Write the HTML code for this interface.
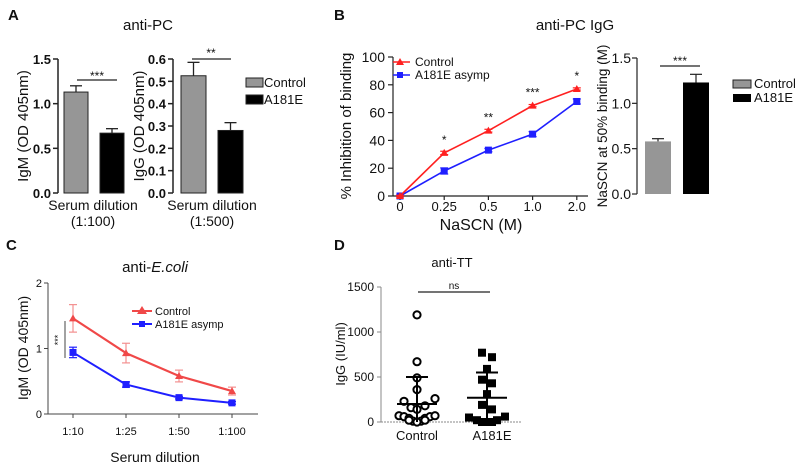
<!DOCTYPE html>
<html><head><meta charset="utf-8">
<style>
html,body{margin:0;padding:0;background:#fff;}
svg{display:block;font-family:"Liberation Sans",sans-serif;}
</style></head>
<body>
<svg id="fig" width="800" height="470" viewBox="0 0 800 470"></svg>
<script>
// ---- Panel A data ----
const aCats = ["Control","A181E"];
const aIgM = [1.13, 0.67];
const aIgMErr = [0.07, 0.05];
const aIgG = [0.525, 0.28];
const aIgGErr = [0.06, 0.035];
const aIgMTicks = ["0.0","0.5","1.0","1.5"];
const aIgGTicks = ["0.0","0.1","0.2","0.3","0.4","0.5","0.6"];
// ---- Panel B data ----
const bCats = ["0","0.25","0.5","1.0","2.0"];
const bControl = [0, 31, 47, 65, 77];
const bControlErr = [0.5, 1.2, 1, 0.8, 0.8];
const bA181E = [0, 18, 33, 44.5, 68];
const bA181EErr = [0.5, 2.2, 1.2, 1.8, 1.8];
const bStars = ["", "*", "**", "***", "*"];
const bYTicks = [0, 20, 40, 60, 80, 100];
const bBar = [0.58, 1.23];
const bBarErr = [0.03, 0.09];
const bBarTicks = ["0.0","0.5","1.0","1.5"];
// ---- Panel C data ----
const cCats = ["1:10","1:25","1:50","1:100"];
const cControl = [1.46, 0.93, 0.58, 0.35];
const cControlErr = [0.21, 0.15, 0.09, 0.06];
const cA181E = [0.94, 0.45, 0.25, 0.17];
const cA181EErr = [0.08, 0.04, 0.02, 0.02];
const cYTicks = [0, 1, 2];
// ---- Panel D data ----
const dControl = [1190,670,490,360,230,160,140,180,260,70,60,40,40,60,70,10,10,20,20,0];
const dControlJitter = [0,0,0,0,-13,-6,0,8,18,-18,-13,-8,8,13,18,-4,4,-8,8,0];
const dA181E = [770,720,590,470,430,310,190,140,50,20,0,20,60,0,0];
const dA181EJitter = [-5,5,0,-5,5,0,-5,5,-18,-10,0,10,18,-5,5];
const dControlMean = 200, dControlSD = 500;
const dA181EMean = 270, dA181ESD = 550;
const dYTicks = [0, 500, 1000, 1500];

const svg = document.getElementById('fig');
const NS = "http://www.w3.org/2000/svg";
function mk(tag, attrs, parent){
  const e = document.createElementNS(NS, tag);
  for (const k in attrs) e.setAttribute(k, attrs[k]);
  (parent||svg).appendChild(e);
  return e;
}
function nm(e, name){
  
  
  return e;
}
function txt(x,y,s,size,anchor,extra,name){
  const e = mk('text', Object.assign({x:x,y:y,'font-size':size,'text-anchor':anchor||'middle',fill:'#111'}, extra||{}));
  e.textContent = s;
  
  
  return e;
}
function line(x1,y1,x2,y2,stroke,w,name){
  const e = mk('line',{x1:x1,y1:y1,x2:x2,y2:y2,stroke:stroke||'#222','stroke-width':w||1.3});
  
  
  return e;
}
function ylabel(x,y,s,size,name){
  return txt(x,y,s,size,'middle',{transform:`rotate(-90 ${x} ${y})`},name);
}

// panel letters
txt(8,20,"A",15,'start',{'font-weight':'bold'},'panel-a-label');
txt(334,20,"B",15,'start',{'font-weight':'bold'},'panel-b-label');
txt(6,250,"C",15,'start',{'font-weight':'bold'},'panel-c-label');
txt(334,250,"D",15,'start',{'font-weight':'bold'},'panel-d-label');

// ===== Panel A =====
txt(148,30,"anti-PC",15,'middle',{},'panel-a-title');
function barPanel(ax, y0, y1, vmax, ticks, vals, errs, xs, bw, prefix){
  const ys = v => y0 - v/vmax*(y0-y1);
  line(ax, y1, ax, y0, '#222', 1.5, prefix+'-y-axis');
  ticks.forEach(t=>{
    const y = ys(parseFloat(t));
    line(ax-5,y,ax,y,'#222',1.5,prefix+'-y-tick');
    txt(ax-7,y+5,t,13,'end',{'font-weight':'bold','font-family':'"Liberation Sans Narrow","Liberation Sans",sans-serif'},prefix+'-y-tick-label');
  });
  const cols = ['#969696','#000'];
  vals.forEach((v,i)=>{
    const top = ys(v+errs[i]);
    line(xs[i]+bw/2, ys(v), xs[i]+bw/2, top,'#222',1.3,prefix+'-error-bar');
    line(xs[i]+bw/2-6, top, xs[i]+bw/2+6, top,'#222',1.3,prefix+'-error-cap');
    const r = mk('rect',{x:xs[i],y:ys(v),width:bw,height:y0-ys(v),fill:cols[i],stroke:'#222','stroke-width':1});
    
    
  });
  return ys;
}
barPanel(58,193,59,1.5,aIgMTicks,aIgM,aIgMErr,[64,100],24,'igm');
ylabel(28,126,"IgM (OD 405nm)",15,'igm-y-axis-title');
line(77,80,117,80,'#222',1.3,'igm-significance-line');
txt(97,80,"***",12,'middle',{},'igm-significance-stars');
txt(93,210,"Serum dilution",14,'middle',{},'igm-x-label');
txt(93,226,"(1:100)",14,'middle',{},'igm-x-dilution');

barPanel(173,193,59,0.6,aIgGTicks,aIgG,aIgGErr,[181,218],25,'igg');
ylabel(144,126,"IgG (OD 405nm)",15,'igg-y-axis-title');
line(192,59,231,59,'#222',1.3,'igg-significance-line');
txt(211,57,"**",12,'middle',{},'igg-significance-stars');
txt(212,210,"Serum dilution",14,'middle',{},'igg-x-label');
txt(212,226,"(1:500)",14,'middle',{},'igg-x-dilution');
// legend A
nm(mk('rect',{x:246,y:78,width:17,height:9,fill:'#969696',stroke:'#222'}),'legend-a-swatch-control');
txt(264,87,"Control",13,'start',{},'legend-a-control');
nm(mk('rect',{x:246,y:95,width:17,height:9,fill:'#000',stroke:'#222'}),'legend-a-swatch-a181e');
txt(264,104,"A181E",13,'start',{},'legend-a-a181e');

// ===== Panel B line =====
txt(575,30,"anti-PC IgG",15,'middle',{},'panel-b-title');
const bx0=400, bdx=44.2, by0=196, by1=57;
const bX = i => bx0 + i*bdx;
const bY = v => by0 - v/100*(by0-by1);
line(393,by1,393,by0,'#222',1.2,'b-y-axis');
line(393,by0,588,by0,'#222',1.2,'b-x-axis');
bYTicks.forEach(t=>{
  line(388,bY(t),393,bY(t),'#222',1.2,'b-y-tick');
  txt(385,bY(t)+5,String(t),14,'end',{},'b-y-tick-label');
});
bCats.forEach((c,i)=>{
  line(bX(i),by0,bX(i),by0+4,'#222',1.2,'b-x-tick');
  txt(bX(i),by0+15,c,13,'middle',{},'b-x-tick-label');
});
ylabel(351,126,"% Inhibition of binding",15,'b-y-axis-title');
txt(481,230,"NaSCN (M)",16,'middle',{},'b-x-axis-title');
function series(X,Y,vals,errs,col,marker,name,w,errCol){
  const pts = vals.map((v,i)=>X(i)+','+Y(v)).join(' ');
  nm(mk('polyline',{points:pts,fill:'none',stroke:col,'stroke-width':w||1.6}),name+'-line');
  vals.forEach((v,i)=>{
    const x=X(i), y=Y(v), t=Y(v+errs[i]), b=Y(v-errs[i]);
    line(x,t,x,b,errCol||col,1.2,name+'-error-bar');
    line(x-4,t,x+4,t,errCol||col,1.2,name+'-error-cap');
    line(x-4,b,x+4,b,errCol||col,1.2,name+'-error-cap');
    let m;
    if(marker==='tri') m = mk('polygon',{points:`${x},${y-4} ${x-4},${y+3} ${x+4},${y+3}`,fill:col});
    else m = mk('rect',{x:x-3.5,y:y-3.5,width:7,height:7,fill:col});
    
    
  });
}
series(bX,bY,bA181E,bA181EErr,'#1f1fff','sq','b-a181e');
series(bX,bY,bControl,bControlErr,'#ff2020','tri','b-control');
bStars.forEach((s,i)=>{ if(s) txt(bX(i), bY(Math.max(bControl[i],bA181E[i]))-9, s, 12,'middle',{},'b-significance-stars'); });
line(393,62,410,62,'#ff2020',1.6,'legend-b-control-line');
nm(mk('polygon',{points:'400,58 396,65 404,65',fill:'#ff2020'}),'legend-b-control-marker');
txt(415,66,"Control",12,'start',{},'legend-b-control');
line(393,75,410,75,'#1f1fff',1.6,'legend-b-a181e-line');
nm(mk('rect',{x:397,y:72,width:6,height:6,fill:'#1f1fff'}),'legend-b-a181e-marker');
txt(415,79,"A181E asymp",12,'start',{},'legend-b-a181e');

// ===== Panel B bar =====
const bby0=194, bby1=58;
const bbY = v => bby0 - v/1.5*(bby0-bby1);
line(637,bby1,637,bby0,'#222',1.2,'b-bar-y-axis');
bBarTicks.forEach(t=>{
  line(632,bbY(+t),637,bbY(+t),'#222',1.2,'b-bar-y-tick');
  txt(631,bbY(+t)+5,t,14,'end',{},'b-bar-y-tick-label');
});
const bbXs=[645,683], bbCols=['#969696','#000'];
bBar.forEach((v,i)=>{
  const t=bbY(v+bBarErr[i]);
  line(bbXs[i]+13,bbY(v),bbXs[i]+13,t,'#222',1.2,'b-bar-error-bar');
  line(bbXs[i]+7,t,bbXs[i]+19,t,'#222',1.2,'b-bar-error-cap');
  const r = mk('rect',{x:bbXs[i],y:bbY(v),width:26,height:bby0-bbY(v),fill:bbCols[i]});
  
  
});
line(660,66,700,66,'#222',1.3,'b-bar-significance-line');
txt(680,65,"***",12,'middle',{},'b-bar-significance-stars');
ylabel(607,126,"NaSCN at 50% binding (M)",13.5,'b-bar-y-axis-title');
nm(mk('rect',{x:733,y:80,width:18,height:8,fill:'#969696',stroke:'#222'}),'legend-b2-swatch-control');
txt(754,88,"Control",13,'start',{},'legend-b2-control');
nm(mk('rect',{x:733,y:94,width:18,height:8,fill:'#000'}),'legend-b2-swatch-a181e');
txt(754,102,"A181E",13,'start',{},'legend-b2-a181e');

// ===== Panel C =====
const ctitle = txt(155,272,"anti-",15,'middle',{},'panel-c-title');
const ts = document.createElementNS(NS,'tspan'); ts.setAttribute('font-style','italic'); ts.textContent="E.coli"; ctitle.appendChild(ts);
const cx0=73, cdx=53, cy0=414, cy1=283;
const cX = i => cx0 + i*cdx;
const cY = v => cy0 - v/2*(cy0-cy1);
line(48,cy1,48,cy0,'#444',1,'c-y-axis');
line(48,cy0,258,cy0,'#444',1,'c-x-axis');
cYTicks.forEach(t=>{
  line(44,cY(t),48,cY(t),'#444',1,'c-y-tick');
  txt(42,cY(t)+4,String(t),11,'end',{},'c-y-tick-label');
});
cCats.forEach((c,i)=>{
  line(cX(i),cy0,cX(i),cy0+4,'#444',1,'c-x-tick');
  txt(cX(i),cy0+21,c,11,'middle',{},'c-x-tick-label');
});
txt(155,462,"Serum dilution",14,'middle',{},'c-x-axis-title');
ylabel(28,348,"IgM  (OD 405nm)",14,'c-y-axis-title');
series(cX,cY,cA181E,cA181EErr,'#1f1fff','sq','c-a181e',2);
series(cX,cY,cControl,cControlErr,'#f04848','tri','c-control',2.2,'#f39090');
line(65,321,65,358,'#444',1,'c-significance-line');
txt(61,340,"***",9,'middle',{transform:'rotate(-90 61 340)'},'c-significance-stars');
line(132,311,152,311,'#f04848',2,'legend-c-control-line');
nm(mk('polygon',{points:'142,306 137,314 147,314',fill:'#f04848'}),'legend-c-control-marker');
txt(155,315,"Control",11,'start',{},'legend-c-control');
line(132,324,152,324,'#1f1fff',2,'legend-c-a181e-line');
nm(mk('rect',{x:139,y:321,width:6,height:6,fill:'#1f1fff'}),'legend-c-a181e-marker');
txt(155,328,"A181E asymp",11,'start',{},'legend-c-a181e');

// ===== Panel D =====
txt(452,267,"anti-TT",13,'middle',{},'panel-d-title');
const dy0=422, dy1=287;
const dY = v => dy0 - v/1500*(dy0-dy1);
const dCx=[417,487];
line(381,dy1,381,dy0,'#888',1,'d-y-axis');
nm(mk('line',{x1:381,y1:dy0,x2:522,y2:dy0,stroke:'#888','stroke-width':1,'stroke-dasharray':'2,1'}),'d-x-axis');
dYTicks.forEach(t=>{
  line(377,dY(t),381,dY(t),'#888',1,'d-y-tick');
  txt(374,dY(t)+4,String(t),12,'end',{},'d-y-tick-label');
});
txt(417,440,"Control",13,'middle',{},'d-x-tick-label');
txt(492,440,"A181E",13,'middle',{},'d-x-tick-label');
ylabel(345,354,"IgG  (IU/ml)",13,'d-y-axis-title');
line(418,292,490,292,'#222',1.3,'d-significance-line');
txt(454,289,"ns",10,'middle',{},'d-significance-label');
dControl.forEach((v,i)=>{
  const c = mk('circle',{cx:dCx[0]+dControlJitter[i],cy:dY(v),r:3.6,fill:'#fff',stroke:'#000','stroke-width':2});
  
  
});
dA181E.forEach((v,i)=>{
  const r = mk('rect',{x:dCx[1]+dA181EJitter[i]-4,y:dY(v)-4,width:8,height:8,fill:'#000'});
  
  
});
function meanSD(cx,m,sd,name){
  line(cx,dY(0),cx,dY(sd),'#000',2,name+'-sd-line');
  line(cx-11,dY(sd),cx+11,dY(sd),'#000',2,name+'-sd-cap');
  line(cx-20,dY(m),cx+20,dY(m),'#000',2,name+'-mean-line');
}
meanSD(dCx[0],dControlMean,dControlSD,'d-control');
meanSD(dCx[1],dA181EMean,dA181ESD,'d-a181e');
</script>
</body></html>
